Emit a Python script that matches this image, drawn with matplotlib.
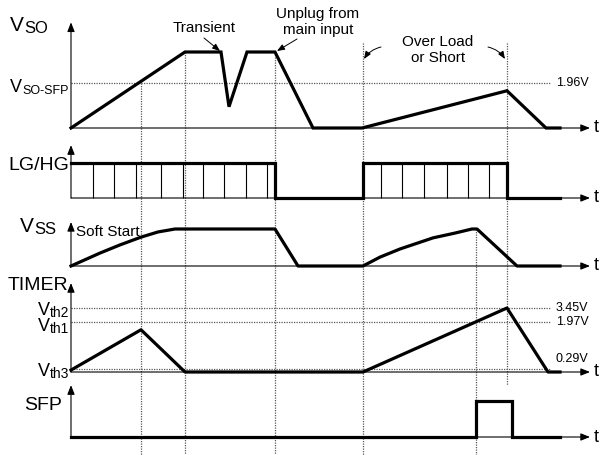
import matplotlib.pyplot as plt

plt.rcParams['font.family'] = ['Liberation Sans', 'DejaVu Sans']

W, H = 601, 455
X0 = 71          # pixel column of the time origin
T_END = 519      # tip of the time arrows

# ---- signals: time in diagram units (0 = origin), level in row units ----
t_vso = [0, 114, 150, 158, 176, 204, 242, 291, 436, 475, 489]
v_vso = [0, 1.0, 1.0, 0.28, 1.0, 1.0, 0, 0, 0.49, 0, 0]
vso_sfp = 0.59

t_gate = [0, 204, 204, 292, 292, 436, 436, 489]
v_gate = [1, 1, 0, 0, 1, 1, 0, 0]
gate_pulses = [22, 43, 65, 90, 112, 132, 153, 175, 196,
               310, 331, 353, 376, 397, 418]

t_vss = [0, 29, 49, 70, 87, 104, 204, 227, 292, 309, 329, 362, 384, 401, 406, 446, 489]
v_vss = [0, 0.35, 0.57, 0.78, 0.92, 1.0, 1.0, 0, 0, 0.24, 0.46, 0.76, 0.89, 1.0, 1.0, 0, 0]

t_timer = [0, 70, 114, 292, 436, 477, 489]
v_timer = [0.03, 0.66, 0, 0, 1.0, 0, 0]
th_levels = [1.0, 0.78, 0.05]
th_labels = ['3.45V', '1.97V', '0.29V']

t_sfp = [0, 405, 405, 441, 441, 489]
v_sfp = [0, 0, 1, 1, 0, 0]

# event markers: time, top and bottom pixel of the dotted guide
marks_t = [70, 114, 204, 292, 405, 436]
marks_top = [83, 52, 52, 43, 229, 43]
marks_bot = [455, 455, 455, 455, 455, 385]

# row layout: baseline pixel, pixels per level unit, arrow height (units)
rows = {
    'vso':   (128, 76, 1.39),
    'gate':  (198, 35, 1.51),
    'vss':   (266, 37, 1.19),
    'timer': (372, 64, 1.39),
    'sfp':   (437, 36, 1.44),
}

THICK = 2.3
GRID = dict(color='0.35', lw=0.9, linestyle=(0, (1, 1)))
AX_ARROW = dict(arrowstyle='-|>,head_length=0.55,head_width=0.22',
                color='k', lw=0.8, shrinkA=0, shrinkB=0, mutation_scale=10)

fig = plt.figure(figsize=(W / 100, H / 100), dpi=100)
lay = fig.add_axes([0, 0, 1, 1])
lay.set_xlim(-X0, W - X0)
lay.set_ylim(H, 0)
lay.axis('off')

# dotted event guides
for t, y0, y1 in zip(marks_t, marks_top, marks_bot):
    lay.plot([t, t], [y0, y1], **GRID)


def row_axes(name):
    base, unit, top = rows[name]
    ax = fig.add_axes([0, 0, 1, 1])
    ax.set_xlim(-X0, W - X0)
    ax.set_ylim((base - H) / unit, base / unit)
    ax.axis('off')
    ax.patch.set_alpha(0)
    ax.annotate('', xy=(0, top), xytext=(0, 0), arrowprops=AX_ARROW)
    ax.annotate('', xy=(T_END, 0), xytext=(0, 0), arrowprops=AX_ARROW)
    ax.text(T_END + 4, 0, 't', fontsize=13, va='center', ha='left')
    return ax


# V_SO
ax = row_axes('vso')
ax.plot([0, 479], [vso_sfp, vso_sfp], **GRID)
ax.text(485, vso_sfp, '1.96V', fontsize=9, va='center')
ax.plot(t_vso, v_vso, color='k', lw=THICK, solid_joinstyle='miter')

# LG/HG
ax = row_axes('gate')
ax.vlines(gate_pulses, 0, 1, color='k', lw=0.8)
ax.plot(t_gate, v_gate, color='k', lw=THICK, solid_joinstyle='miter')

# V_SS
ax = row_axes('vss')
ax.plot(t_vss, v_vss, color='k', lw=THICK)

# TIMER
ax = row_axes('timer')
for lv, lb in zip(th_levels, th_labels):
    ax.plot([0, 479], [lv, lv], **GRID)
    off = 0.16 if lb == '0.29V' else 0
    ax.text(485, lv + off, lb, fontsize=9, va='center')
ax.plot(t_timer, v_timer, color='k', lw=THICK)

# SFP
ax = row_axes('sfp')
ax.plot(t_sfp, v_sfp, color='k', lw=THICK, solid_joinstyle='miter')

# ---- left labels (layout coords) ----
def sig_label(x, y, main, sub, size=14, subsize=10, gap=0):
    lay.text(x - X0, y, main, fontsize=size, va='baseline', ha='left')
    if sub:
        lay.text(x - X0 + gap, y + 2, sub, fontsize=subsize, va='baseline', ha='left')

sig_label(10, 31, 'V', 'SO', size=15, subsize=12, gap=14)
sig_label(10, 92, 'V', 'SO-SFP', size=13, subsize=9, gap=12)
sig_label(8, 170, 'LG/HG', None)
sig_label(20, 232, 'V', 'SS', size=15, subsize=12, gap=14)
sig_label(8, 290, 'TIMER', None)
sig_label(38, 315, 'V', 'th2', size=13, subsize=10, gap=12)
sig_label(38, 331, 'V', 'th1', size=13, subsize=10, gap=12)
sig_label(38, 376, 'V', 'th3', size=13, subsize=10, gap=12)
sig_label(24, 410, 'SFP', None, size=14)
lay.text(76 - X0, 236, 'Soft Start', fontsize=11, va='baseline')

# ---- annotations ----
NOTE_ARROW = dict(arrowstyle='-|>,head_length=0.5,head_width=0.2',
                  color='k', lw=0.7, shrinkA=0, shrinkB=0, mutation_scale=9)
lay.text(204 - X0, 28, 'Transient', fontsize=11, ha='center', va='center')
lay.annotate('', xy=(220 - X0, 51), xytext=(204 - X0, 38), arrowprops=NOTE_ARROW)
lay.text(318 - X0, 22, 'Unplug from\nmain input', fontsize=11, ha='center',
         va='center', linespacing=1.1)
lay.annotate('', xy=(277 - X0, 51), xytext=(297 - X0, 39), arrowprops=NOTE_ARROW)
lay.text(438 - X0, 50, 'Over Load\nor Short', fontsize=11, ha='center',
         va='center', linespacing=1.1)
lay.annotate('', xy=(364 - X0, 59), xytext=(381 - X0, 47),
             arrowprops=dict(NOTE_ARROW, connectionstyle='arc3,rad=0.2'))
lay.annotate('', xy=(505 - X0, 59), xytext=(488 - X0, 47),
             arrowprops=dict(NOTE_ARROW, connectionstyle='arc3,rad=-0.2'))

fig.savefig('out.png', dpi=100)
